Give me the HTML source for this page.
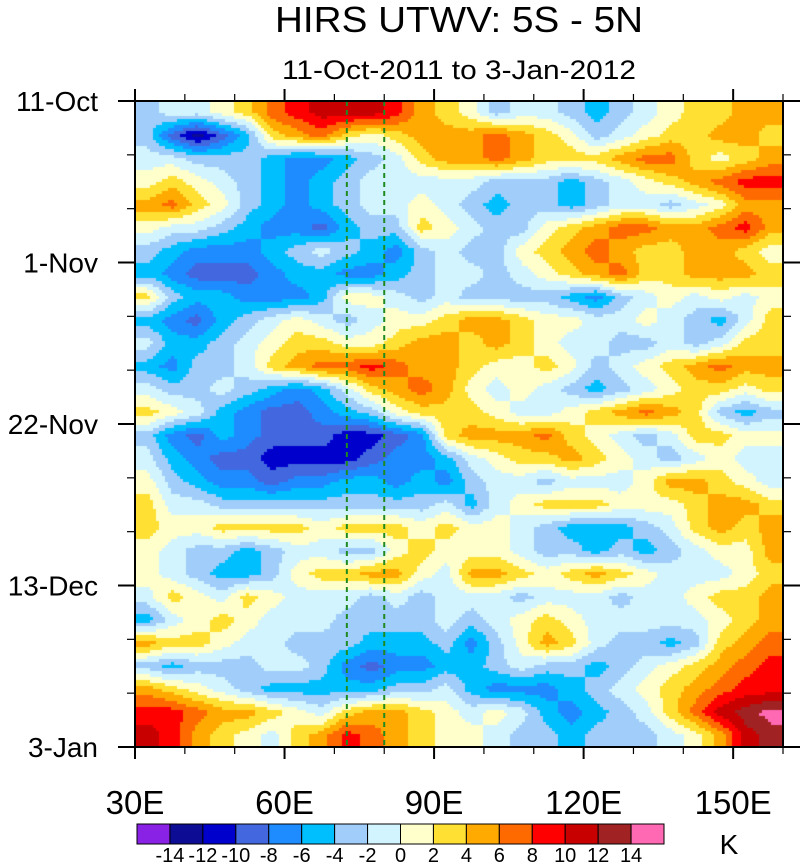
<!DOCTYPE html>
<html><head><meta charset="utf-8"><style>
html,body{margin:0;padding:0;background:#fff;}
body{width:801px;height:863px;position:relative;overflow:hidden;font-family:"Liberation Sans",sans-serif;}
</style></head><body>
<svg id="chart" width="801" height="863" style="position:absolute;left:0;top:0">
  <text x="459" y="32" font-size="36" text-anchor="middle" textLength="368" lengthAdjust="spacingAndGlyphs" font-family="Liberation Sans, sans-serif">HIRS UTWV: 5S - 5N</text>
  <text x="459" y="79" font-size="27" text-anchor="middle" textLength="354" lengthAdjust="spacingAndGlyphs" font-family="Liberation Sans, sans-serif">11-Oct-2011 to 3-Jan-2012</text>
  <foreignObject x="135" y="101" width="648" height="646">
    <canvas xmlns="http://www.w3.org/1999/xhtml" id="cv" width="648" height="646" style="display:block"></canvas>
  </foreignObject>
  <g id="overlay"></g>
</svg>
<script>
const lonStart = 30, lonEnd = 160;
const nDays = 84;
const levels = [-14,-12,-10,-8,-6,-4,-2,0,2,4,6,8,10,12,14];
const levelColors = ["#8a22e6","#0c0c94","#0000cd","#4267de","#1e8cff","#00bfff","#a0cdfa","#d2f4ff","#ffffcc","#ffe033","#ffaa00","#ff6a00","#ff0000","#c80000","#a02222","#ff69b4"];
const xTickLabels = ["30E","60E","90E","120E","150E"];
const xTickValues = [30,60,90,120,150];
const yTickLabels = ["11-Oct","1-Nov","22-Nov","13-Dec","3-Jan"];
const yTickDays = [0,21,42,63,84];
const refLons = [72.5,80];
// anomaly field rows (3-day steps from 11-Oct), columns every 5 deg from 30E
const row00=[-3,-1,-1,1,3,7,9,11,11,11,9,5,3,1,-3,-1,-1,-3,-5,-3,-1,1,3,3,5,5];
const row01=[-3,-9,-13,-9,-5,3,5,7,3,1,3,5,5,5,7,5,3,1,-3,-1,1,3,3,5,5,3];
const row02=[-1,-1,-3,-3,-3,-5,-7,-7,-5,-3,-1,3,5,5,7,5,3,3,3,5,7,7,3,1,3,5];
const row03=[1,3,1,-1,-3,-5,-7,-5,-3,-1,-1,-1,-1,-1,-3,-3,-3,-5,-3,-1,1,3,5,7,9,9];
const row04=[5,7,3,1,-3,-5,-7,-5,-3,-1,-1,1,-1,-3,-5,-3,-3,-5,-3,-1,-1,-3,-1,1,5,5];
const row05=[1,-1,-1,-3,-5,-7,-7,-9,-5,-3,-3,3,1,-1,-3,-3,1,3,5,7,7,5,5,7,9,5];
const row06=[-3,-5,-7,-7,-7,-5,-3,-1,-3,-5,-7,-3,-1,-3,-3,1,3,5,7,5,3,3,5,5,3,1];
const row07=[-5,-7,-9,-9,-9,-7,-5,-5,-7,-7,-5,-3,-1,-1,-3,-1,1,3,5,7,3,3,5,5,5,3];
const row08=[3,-3,-5,-5,-7,-7,-7,-5,1,1,-1,-3,-1,-3,-3,-3,-3,-5,-7,-3,-1,1,-1,1,-1,1];
const row09=[-5,-7,-9,-5,-3,-1,1,-1,-3,-1,1,1,3,5,5,3,1,1,-1,-1,1,-1,-3,-5,-1,3];
const row10=[-1,-5,-5,-3,-1,1,3,3,1,1,3,5,5,3,5,3,1,-1,-1,-3,-3,-1,-3,-1,3,3];
const row11=[-5,-7,-3,-3,-1,3,5,7,7,9,7,5,5,3,1,1,3,1,-3,-1,1,3,5,7,5,5];
const row12=[-1,-3,-3,-1,-3,-5,-7,-5,-1,3,5,7,5,1,-1,1,-1,-3,-5,-3,-1,1,3,3,1,3];
const row13=[3,1,-1,-5,-7,-9,-9,-7,-5,-3,1,3,3,3,1,-1,-1,1,3,5,7,5,3,-3,-5,-3];
const row14=[-3,-7,-9,-5,-7,-9,-9,-9,-11,-11,-9,-7,3,5,5,5,7,3,1,-1,-3,-1,3,3,1,1];
const row15=[-1,-5,-7,-9,-9,-11,-11,-11,-11,-9,-7,-7,-5,-1,1,3,3,5,3,1,-1,-3,-1,1,-1,-1];
const row16=[1,-3,-5,-7,-7,-9,-7,-7,-5,-5,-7,-5,-7,-3,-1,-1,-3,-1,-1,-1,1,5,5,3,1,-1];
const row17=[3,-1,-1,-3,-3,-3,-3,-3,-3,-3,-3,-3,-1,-5,-1,1,3,3,3,1,1,1,3,5,5,3];
const row18=[3,1,1,3,3,3,3,1,3,3,3,1,3,1,1,-1,-3,-5,-5,-5,-3,-1,3,5,3,5];
const row19=[1,-1,-3,-3,-5,-3,-1,-1,-3,-3,1,3,1,1,1,-1,-3,-3,-5,-3,-5,-3,-1,1,1,5];
const row20=[1,-1,-3,-5,-5,-3,1,3,3,5,5,1,-1,5,5,3,1,3,5,3,1,-1,-1,-1,1,3];
const row21=[-1,3,1,-1,3,1,-1,-1,-1,-3,-1,-3,-1,-1,-1,-3,-1,-1,-1,-3,-1,-1,1,3,3,5];
const row22=[-5,-1,1,3,1,-1,-1,-1,-3,-3,-3,-3,-1,-3,-1,1,3,1,-1,-1,-1,-1,-1,1,3,5];
const row23=[5,3,3,1,-1,-1,-3,-3,-3,-5,-5,-5,-3,-7,-3,1,5,3,-1,-3,-3,-5,-3,3,5,7];
const row24=[-3,-5,-3,-3,-3,-1,-1,-3,-7,-9,-7,-7,-5,-5,-3,-1,-3,-3,-5,-3,-1,1,3,5,7,9];
const row25=[5,3,1,-1,-3,-5,-5,-5,-5,-5,-3,-3,-1,-5,-7,-7,-7,-5,-3,-1,1,3,5,7,9,9];
const row26=[9,9,7,5,5,3,1,-1,3,5,5,3,1,-1,1,-1,-5,-7,-5,-3,-1,3,7,11,13,15];
const row27=[11,9,5,3,1,-1,3,5,9,7,5,3,1,1,-1,-3,-3,-5,-3,-3,-3,-1,1,5,11,13];
const field=[row00,row01,row02,row03,row04,row05,row06,row07,row08,row09,row10,row11,row12,row13,row14,row15,row16,row17,row18,row19,row20,row21,row22,row23,row24,row25,row26,row27];

const PL=135, PT=101, PW=648, PH=646;
function xScale(lon){return PL+(lon-lonStart)/(lonEnd-lonStart)*PW;}
function yScale(day){return PT+day/nDays*PH;}
function colorFor(v){let i=0;while(i<levels.length&&v>=levels[i])i++;return levelColors[i];}

(function(){
  const cv=document.getElementById('cv');const ctx=cv.getContext('2d');
  const nr=field.length, nc=Math.max(...field.map(r=>r.length));
  const get=(r,c)=>{r=Math.max(0,Math.min(nr-1,r));const row=field[r];c=Math.max(0,Math.min(row.length-1,c));return row[c];};
  const step=3;
  for(let py=0;py<PH;py+=step){
    const gr=(py+step/2)/PH*nr-0.5;const r0=Math.floor(gr),fr=gr-r0;
    for(let px=0;px<PW;px+=step){
      const gc=(px+step/2)/PW*nc-0.5;const c0=Math.floor(gc),fc=gc-c0;
      const v=(get(r0,c0)*(1-fc)+get(r0,c0+1)*fc)*(1-fr)+(get(r0+1,c0)*(1-fc)+get(r0+1,c0+1)*fc)*fr;
      ctx.fillStyle=colorFor(v);ctx.fillRect(px,py,step,step);
    }
  }
})();

(function(){
  const NS="http://www.w3.org/2000/svg";const g=document.getElementById('overlay');
  function mk(tag,attrs){const e=document.createElementNS(NS,tag);for(const k in attrs)e.setAttribute(k,attrs[k]);g.appendChild(e);return e;}
  refLons.forEach(l=>{
    const e=mk('line',{x1:xScale(l),x2:xScale(l),y1:PT,y2:PT+PH,stroke:'#1f8a1f','stroke-width':2,'stroke-dasharray':'5,4'});
    
    
  });
  const fr=mk('rect',{x:PL,y:PT,width:PW,height:PH,fill:'none',stroke:'#000','stroke-width':2});
  
  
  for(let lon=lonStart;lon<=lonEnd;lon+=10){
    const major=xTickValues.includes(lon);const L=major?12:7;const x=xScale(lon);
    const t1=mk('line',{x1:x,x2:x,y1:PT,y2:PT-L,stroke:'#000','stroke-width':major?2:1.2});
    
    
    const t2=mk('line',{x1:x,x2:x,y1:PT+PH,y2:PT+PH+L,stroke:'#000','stroke-width':major?2:1.2});
    
    
  }
  xTickValues.forEach((v,i)=>{
    const t=mk('text',{x:xScale(v),y:814,'font-size':33,'text-anchor':'middle','font-family':'Liberation Sans, sans-serif'});
    t.textContent=xTickLabels[i];
    
    
  });
  for(let d=0;d<=nDays;d+=7){
    const major=yTickDays.includes(d);const L=major?17:8;const y=yScale(d);
    const a=mk('line',{x1:PL,x2:PL-L,y1:y,y2:y,stroke:'#000','stroke-width':major?2:1.2});
    
    
    const b=mk('line',{x1:PL+PW,x2:PL+PW+L,y1:y,y2:y,stroke:'#000','stroke-width':major?2:1.2});
    
    
  }
  yTickDays.forEach((d,i)=>{
    const t=mk('text',{x:98,y:yScale(d)+10,'font-size':28,'text-anchor':'end','font-family':'Liberation Sans, sans-serif'});
    t.textContent=yTickLabels[i];
    
    
  });
  const cbx=137,cby=824,cbw=(664-137)/levelColors.length,cbh=20;
  levelColors.forEach((c,i)=>{
    const r=mk('rect',{x:cbx+i*cbw,y:cby,width:cbw,height:cbh,fill:c,stroke:'#000','stroke-width':1});
    
    
  });
  levels.forEach((v,i)=>{
    const t=mk('text',{x:cbx+(i+1)*cbw,y:862,'font-size':20,'text-anchor':'middle','font-family':'Liberation Sans, sans-serif'});
    t.textContent=String(v);
    
    
  });
  const k=mk('text',{x:729,y:854,'font-size':28,'text-anchor':'middle','font-family':'Liberation Sans, sans-serif'});
  k.textContent='K';
  
  
})();
</script>
</body></html>
